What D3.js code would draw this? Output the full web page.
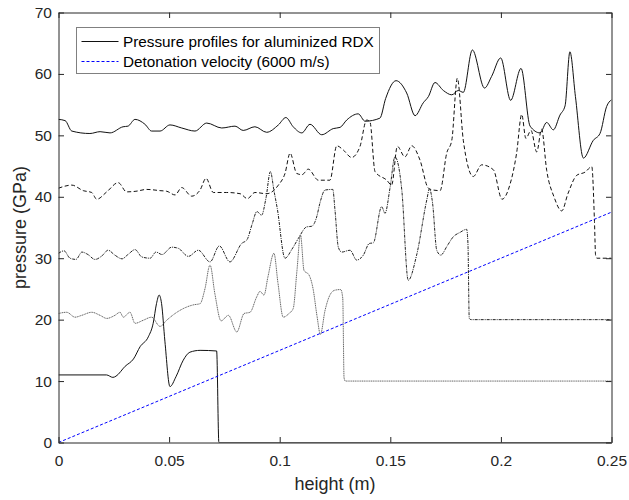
<!DOCTYPE html>
<html>
<head>
<meta charset="utf-8">
<script src="https://cdn.jsdelivr.net/npm/d3@7"></script>
<style>
  body { margin: 0; background: #fff; }
  svg { display: block; }
</style>
</head>
<body>
<svg id="chart"></svg>
<script>
// pressure profiles, [height (m), pressure (GPa)], each one shifted up 10 GPa
const profile1 = [
  [0, 11.0], [0.0217, 11.0], [0.0246, 10.6], [0.026, 10.8], [0.0301, 12.4], [0.0339, 13.6],
  [0.0369, 15.6], [0.0406, 17.2], [0.0428, 19.4], [0.0443, 22.6], [0.0455, 24.0], [0.0466, 22.6],
  [0.0481, 16.5], [0.0504, 9.1], [0.0531, 10.7], [0.0564, 13.4], [0.0594, 14.7], [0.064, 15.0],
  [0.0715, 14.9], [0.0725, 0], [0.25, 0]
];
const profile2 = [
  [0, 21.0], [0.0037, 21.2], [0.0075, 20.4], [0.0105, 20.7], [0.015, 21.2], [0.0188, 20.7],
  [0.0218, 20.2], [0.0255, 20.7], [0.0278, 21.2], [0.0293, 20.4], [0.0323, 21.2], [0.0346, 19.4],
  [0.0383, 19.9], [0.0421, 20.4], [0.0459, 18.9], [0.0489, 19.9], [0.0527, 21.0], [0.0564, 21.8],
  [0.0609, 22.4], [0.064, 22.6], [0.0662, 25.0], [0.0685, 28.9], [0.0707, 24.2], [0.0735, 19.8],
  [0.0768, 20.7], [0.0806, 18.0], [0.0839, 21.0], [0.0866, 21.2], [0.0896, 23.7], [0.0911, 24.6],
  [0.0929, 24.0], [0.0947, 27.0], [0.0974, 30.8], [0.0992, 26.0], [0.1016, 20.4], [0.1042, 21.0],
  [0.1061, 21.8], [0.1078, 28.0], [0.1094, 33.8], [0.111, 28.0], [0.1132, 27.3], [0.1151, 25.0],
  [0.1169, 20.5], [0.1184, 17.6], [0.1205, 21.5], [0.1227, 24.0], [0.125, 24.8], [0.1276, 24.9],
  [0.1285, 23.5], [0.1291, 10.5], [0.1297, 10.0], [0.25, 10.0]
];
const profile3 = [
  [0, 30.8], [0.0025, 31.2], [0.0052, 30.0], [0.0079, 29.8], [0.0106, 31.0], [0.0133, 30.6],
  [0.0165, 29.8], [0.0197, 30.4], [0.0224, 31.3], [0.0255, 30.5], [0.0287, 29.9], [0.0314, 30.6],
  [0.0346, 31.4], [0.0377, 30.2], [0.0414, 30.0], [0.0441, 31.0], [0.0468, 30.6], [0.0512, 31.8],
  [0.0542, 31.6], [0.0587, 30.3], [0.0632, 31.3], [0.0685, 29.4], [0.0727, 32.0], [0.0775, 29.4],
  [0.0828, 32.4], [0.0852, 33.0], [0.0875, 35.5], [0.0897, 37.6], [0.0918, 37.0], [0.0938, 39.8],
  [0.0958, 44.1], [0.0974, 41.0], [0.0989, 38.1], [0.1024, 30.0], [0.1056, 31.5], [0.1084, 33.2],
  [0.1122, 35.1], [0.1145, 35.2], [0.1167, 36.7], [0.1182, 39.0], [0.1205, 41.1], [0.124, 41.2],
  [0.125, 37.8], [0.1265, 31.8], [0.128, 31.0], [0.1318, 31.3], [0.1348, 29.7], [0.1378, 30.5],
  [0.1405, 32.4], [0.1423, 32.5], [0.1461, 38.4], [0.1476, 37.3], [0.1499, 41.5], [0.1521, 46.5],
  [0.1552, 41.1], [0.1581, 26.4], [0.1619, 30.5], [0.1665, 39.5], [0.1677, 41.3], [0.1691, 39.0],
  [0.171, 31.3], [0.1728, 30.5], [0.1757, 32.0], [0.1785, 33.5], [0.1815, 34.2], [0.1845, 34.7],
  [0.1851, 32.4], [0.1857, 20.2], [0.1865, 20.0], [0.25, 20.0]
];
const profile4 = [
  [0, 41.4], [0.006, 41.9], [0.0112, 41.0], [0.015, 40.7], [0.0173, 39.6], [0.0218, 40.8],
  [0.027, 42.3], [0.0308, 40.8], [0.035, 40.9], [0.0399, 41.2], [0.0459, 41.0], [0.0489, 40.9],
  [0.0527, 40.3], [0.0557, 41.5], [0.0602, 40.1], [0.064, 41.1], [0.0667, 43.0], [0.07, 40.7],
  [0.076, 40.7], [0.0821, 40.5], [0.0854, 39.7], [0.0888, 40.7], [0.0941, 40.5], [0.0994, 41.9],
  [0.1024, 43.8], [0.1047, 47.1], [0.1077, 43.8], [0.1101, 43.6], [0.1129, 44.5], [0.1175, 42.7],
  [0.1227, 42.7], [0.1258, 48.3], [0.1288, 47.6], [0.1325, 46.4], [0.1363, 48.2], [0.1393, 52.5],
  [0.1408, 52.2], [0.1431, 44.1], [0.1484, 42.7], [0.1506, 41.9], [0.1532, 48.2], [0.1566, 46.5],
  [0.1597, 48.3], [0.1634, 46.0], [0.1672, 41.4], [0.1694, 41.1], [0.1725, 41.0], [0.1755, 47.1],
  [0.1778, 49.2], [0.1803, 59.3], [0.183, 49.2], [0.1875, 43.3], [0.1913, 45.2], [0.1966, 44.4],
  [0.2005, 39.6], [0.2041, 42.0], [0.2071, 47.1], [0.2094, 53.4], [0.2113, 49.5], [0.2136, 50.8],
  [0.2162, 47.3], [0.2184, 51.0], [0.2207, 44.3], [0.224, 40.0], [0.2275, 37.7], [0.2303, 40.5],
  [0.2343, 43.5], [0.238, 44.0], [0.2411, 44.9], [0.2423, 36.0], [0.2428, 30.5], [0.2434, 30.0],
  [0.25, 30.0]
];
const profile5 = [
  [0, 52.6], [0.003, 52.4], [0.006, 50.7], [0.0142, 50.3], [0.0188, 50.6], [0.0233, 50.4],
  [0.0292, 51.4], [0.0314, 51.5], [0.0346, 52.6], [0.0391, 51.8], [0.0421, 50.7], [0.0459, 50.7],
  [0.0504, 51.7], [0.0557, 51.2], [0.0617, 50.7], [0.067, 52.0], [0.0738, 51.2], [0.0798, 51.5],
  [0.0835, 50.8], [0.0888, 51.4], [0.0941, 50.5], [0.0994, 51.7], [0.1028, 52.9], [0.1061, 51.4],
  [0.11, 50.4], [0.1137, 51.8], [0.119, 50.1], [0.1242, 51.1], [0.1273, 51.3], [0.1303, 52.5],
  [0.1355, 53.5], [0.1386, 52.3], [0.1453, 52.8], [0.1479, 56.0], [0.1526, 58.9], [0.1574, 56.9],
  [0.1612, 53.2], [0.1649, 55.3], [0.1672, 56.3], [0.1702, 58.6], [0.174, 57.3], [0.1778, 56.6],
  [0.1807, 57.3], [0.183, 57.0], [0.1871, 63.9], [0.1926, 57.7], [0.1958, 59.6], [0.1999, 62.6],
  [0.2044, 55.7], [0.2091, 60.9], [0.2132, 51.5], [0.2177, 50.4], [0.2207, 52.1], [0.2237, 50.9],
  [0.2267, 53.3], [0.229, 54.8], [0.2312, 63.6], [0.2337, 56.3], [0.2373, 46.3], [0.2418, 49.2],
  [0.2448, 50.3], [0.2478, 54.7], [0.25, 55.8]
];
// detonation front moving at 6000 m/s
const detonationHeight = [0, 0.25];
const detonationPressure = [0, 37.5];

const xTicks = [0, 0.05, 0.1, 0.15, 0.2, 0.25];
const xTickLabels = ['0', '0.05', '0.1', '0.15', '0.2', '0.25'];
const yTicks = [0, 10, 20, 30, 40, 50, 60, 70];
const legendLabels = ['Pressure profiles for aluminized RDX', 'Detonation velocity (6000 m/s)'];

class PressureChart {

  constructor(_config) {
    this.config = {
      parentElement: _config.parentElement,
      containerWidth: _config.containerWidth,
      containerHeight: _config.containerHeight,
      margin: {top: 12.5, right: 17.5, bottom: 57.5, left: 58.5},
      tickLength: 5.5,
      font: 'Liberation Sans, Arial, Helvetica, sans-serif',
      axisColor: '#262626'
    };
    this.initVis();
  }

  initVis() {
    let vis = this;
    const m = vis.config.margin;
    vis.width = vis.config.containerWidth - m.left - m.right;
    vis.height = vis.config.containerHeight - m.top - m.bottom;

    vis.svg = d3.select(vis.config.parentElement)
      .attr('width', vis.config.containerWidth)
      .attr('height', vis.config.containerHeight)
      .style('font-family', vis.config.font);

    vis.chart = vis.svg.append('g')
      .attr('transform', `translate(${m.left},${m.top})`);

    vis.x = d3.scaleLinear().domain([0, 0.25]).range([0, vis.width]);
    vis.y = d3.scaleLinear().domain([0, 70]).range([vis.height, 0]);

    vis.svg.append('clipPath').attr('id', 'plot-clip')
      .append('rect').attr('width', vis.width).attr('height', vis.height);
  }

  renderVis() {
    let vis = this;
    const tl = vis.config.tickLength;

    const line = d3.line()
      .x(d => vis.x(d[0]))
      .y(d => vis.y(d[1]))
      .curve(d3.curveMonotoneX);

    const plot = vis.chart.append('g').attr('clip-path', 'url(#plot-clip)');

    const series = [
      {data: profile1, color: '#111', dash: null, width: 1},
      {data: profile2, color: '#555', dash: '1.2,0.6', width: 0.9},
      {data: profile3, color: '#222', dash: '3,1,1,1', width: 1},
      {data: profile4, color: '#111', dash: '4,2.5', width: 1},
      {data: profile5, color: '#111', dash: null, width: 1}
    ];

    plot.selectAll('path.profile')
      .data(series)
      .join('path')
      .attr('class', 'profile')
      .attr('d', s => line(s.data))
      .attr('fill', 'none')
      .attr('stroke', s => s.color)
      .attr('stroke-width', s => s.width)
      .attr('stroke-dasharray', s => s.dash);

    plot.append('path')
      .datum(detonationHeight.map((h, i) => [h, detonationPressure[i]]))
      .attr('d', d3.line().x(d => vis.x(d[0])).y(d => vis.y(d[1])))
      .attr('fill', 'none')
      .attr('stroke', '#0000ff')
      .attr('stroke-width', 1)
      .attr('stroke-dasharray', '3,2');

    // axes, ticks point inward on all four sides
    const styleAxis = g => {
      g.selectAll('path, line').attr('stroke', vis.config.axisColor);
      g.selectAll('text').attr('fill', vis.config.axisColor).style('font-size', '15.5px');
    };

    vis.chart.append('g')
      .attr('transform', `translate(0,${vis.height})`)
      .call(d3.axisBottom(vis.x).tickValues(xTicks).tickFormat((d, i) => xTickLabels[i])
        .tickSizeInner(-tl).tickSizeOuter(0).tickPadding(12.5))
      .call(styleAxis);

    vis.chart.append('g')
      .call(d3.axisTop(vis.x).tickValues(xTicks).tickFormat('')
        .tickSizeInner(-tl).tickSizeOuter(0))
      .call(styleAxis);

    vis.chart.append('g')
      .call(d3.axisLeft(vis.y).tickValues(yTicks).tickFormat(d3.format('d'))
        .tickSizeInner(-tl).tickSizeOuter(0).tickPadding(6.5))
      .call(styleAxis);

    vis.chart.append('g')
      .attr('transform', `translate(${vis.width},0)`)
      .call(d3.axisRight(vis.y).tickValues(yTicks).tickFormat('')
        .tickSizeInner(-tl).tickSizeOuter(0))
      .call(styleAxis);

    vis.svg.append('text')
      .attr('x', vis.config.margin.left + vis.width / 2)
      .attr('y', 489.5)
      .attr('text-anchor', 'middle')
      .attr('fill', vis.config.axisColor)
      .style('font-size', '18px')
      .text('height (m)');

    vis.svg.append('text')
      .attr('transform', `translate(25.5,${vis.config.margin.top + vis.height / 2}) rotate(-90)`)
      .attr('text-anchor', 'middle')
      .attr('fill', vis.config.axisColor)
      .style('font-size', '18px')
      .text('pressure (GPa)');

    // legend
    const legend = vis.svg.append('g');
    legend.append('rect')
      .attr('x', 76.5).attr('y', 27.5)
      .attr('width', 303).attr('height', 46)
      .attr('fill', '#fff')
      .attr('stroke', '#808080')
      .attr('stroke-width', 1);

    const legendColors = ['#111', '#0000ff'];
    const legendDash = [null, '3,2'];

    const entries = legend.selectAll('g.entry')
      .data(legendLabels)
      .join('g')
      .attr('class', 'entry')
      .attr('transform', (d, i) => `translate(0,${41.5 + i * 20})`);

    entries.append('line')
      .attr('x1', 81.5).attr('x2', 118.5)
      .attr('stroke', d => legendColors[legendLabels.indexOf(d)])
      .attr('stroke-width', 1)
      .attr('stroke-dasharray', d => legendDash[legendLabels.indexOf(d)]);

    entries.append('text')
      .attr('x', 123)
      .attr('y', 5.3)
      .attr('fill', '#000')
      .style('font-size', '15.3px')
      .text(d => d);
  }
}

const chart = new PressureChart({parentElement: '#chart', containerWidth: 629, containerHeight: 500});
chart.renderVis();
</script>
</body>
</html>
